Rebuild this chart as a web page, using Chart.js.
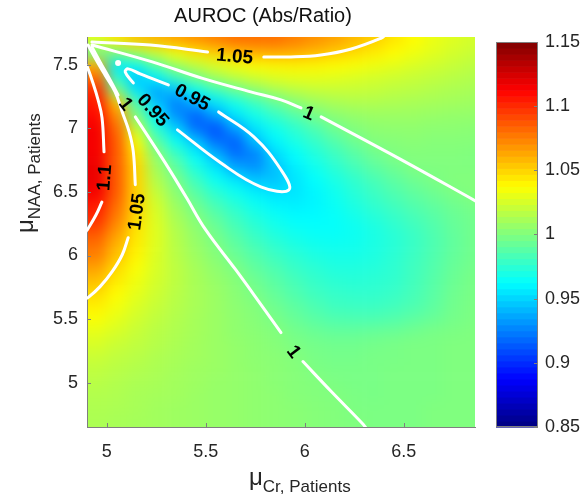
<!DOCTYPE html>
<html>
<head>
<meta charset="utf-8">
<script src="https://cdn.jsdelivr.net/npm/chart.js@4.4.1/dist/chart.umd.min.js"></script>
<style>
  body { margin: 0; background: #fff; font-family: "Liberation Sans", Arial, sans-serif; }
  #wrap { position: relative; width: 585px; height: 504px; overflow: hidden; }
  canvas { position: absolute; top: 0; }
  #main { left: 0; }
  #bar { left: 480px; }
  .lbl { position: absolute; color: #262626; white-space: nowrap; line-height: 1; }
  .lbl sub { font-size: 17px; vertical-align: baseline; position: relative; top: 7px; }
</style>
</head>
<body>
<div id="wrap">
  <canvas id="main" width="585" height="504"></canvas>
  <canvas id="bar" width="105" height="504"></canvas>
  <div class="lbl" style="left:0; width:526px; text-align:center; top:5px; font-size:20px; color:#111">AUROC (Abs/Ratio)</div>
  <div class="lbl" style="left:249px; top:465px; font-size:24px">μ<sub>Cr, Patients</sub></div>
  <div class="lbl" style="left:13px; top:233px; font-size:24px; transform-origin:left top; transform:rotate(-90deg)">μ<sub>NAA, Patients</sub></div>
</div>
<script>
// axes
const xMin = 4.9, xMax = 6.86;
const yMin = 4.65, yMax = 7.72;
const xTicks = [5, 5.5, 6, 6.5];
const yTicks = [5, 5.5, 6, 6.5, 7, 7.5];
const cMin = 0.85, cMax = 1.15;
const cbTicks = [0.85, 0.9, 0.95, 1, 1.05, 1.1, 1.15];
const cbTickLabels = ['0.85', '0.9', '0.95', '1', '1.05', '1.1', '1.15'];

// grid of AUROC ratio values
const xCenters = [4.95, 5.05, 5.15, 5.25, 5.35, 5.45, 5.55, 5.65, 5.75, 5.85,
                  5.95, 6.05, 6.15, 6.25, 6.35, 6.45, 6.55, 6.65, 6.75, 6.85];
const yCenters = [7.7, 7.6, 7.5, 7.4, 7.3, 7.2, 7.1, 7.0, 6.9, 6.8, 6.7, 6.6, 6.5, 6.4, 6.3, 6.2,
                  6.1, 6.0, 5.9, 5.8, 5.7, 5.6, 5.5, 5.4, 5.3, 5.2, 5.1, 5.0, 4.9, 4.8, 4.7];
const auroc = [
  [1.03, 1.045, 1.055, 1.06, 1.065, 1.07, 1.075, 1.08, 1.08, 1.08, 1.075, 1.07, 1.065, 1.058, 1.052, 1.045, 1.038, 1.032, 1.028, 1.025],
  [0.99, 1.0, 1.015, 1.025, 1.035, 1.045, 1.052, 1.058, 1.062, 1.063, 1.062, 1.058, 1.053, 1.048, 1.043, 1.038, 1.033, 1.029, 1.025, 1.022],
  [1.06, 0.955, 0.965, 0.99, 1.01, 1.02, 1.028, 1.034, 1.038, 1.04, 1.041, 1.04, 1.038, 1.036, 1.033, 1.03, 1.027, 1.024, 1.021, 1.018],
  [1.08, 0.975, 0.945, 0.96, 0.98, 0.997, 1.01, 1.018, 1.024, 1.028, 1.03, 1.03, 1.029, 1.027, 1.025, 1.023, 1.021, 1.019, 1.017, 1.015],
  [1.1, 1.0, 0.955, 0.935, 0.945, 0.965, 0.98, 0.993, 1.004, 1.012, 1.017, 1.02, 1.021, 1.021, 1.02, 1.018, 1.017, 1.015, 1.013, 1.012],
  [1.105, 1.055, 0.985, 0.945, 0.925, 0.94, 0.955, 0.968, 0.98, 0.992, 1.002, 1.008, 1.012, 1.014, 1.014, 1.013, 1.012, 1.011, 1.01, 1.009],
  [1.11, 1.07, 1.0, 0.96, 0.93, 0.915, 0.935, 0.955, 0.968, 0.978, 0.987, 0.997, 1.003, 1.006, 1.008, 1.008, 1.008, 1.007, 1.006, 1.006],
  [1.115, 1.08, 1.02, 0.975, 0.95, 0.92, 0.91, 0.935, 0.955, 0.967, 0.976, 0.985, 0.995, 1.001, 1.004, 1.005, 1.005, 1.004, 1.004, 1.003],
  [1.115, 1.085, 1.035, 0.99, 0.965, 0.945, 0.92, 0.915, 0.945, 0.96, 0.97, 0.978, 0.987, 0.995, 1.001, 1.002, 1.003, 1.002, 1.002, 1.002],
  [1.115, 1.085, 1.045, 1.003, 0.98, 0.96, 0.94, 0.92, 0.925, 0.952, 0.963, 0.972, 0.98, 0.988, 0.995, 1.0, 1.001, 1.001, 1.001, 1.0],
  [1.118, 1.085, 1.05, 1.01, 0.99, 0.97, 0.955, 0.935, 0.93, 0.945, 0.958, 0.967, 0.975, 0.983, 0.99, 0.995, 1.0, 1.0, 1.0, 1.0],
  [1.118, 1.085, 1.05, 1.015, 0.998, 0.98, 0.965, 0.955, 0.945, 0.945, 0.955, 0.963, 0.97, 0.977, 0.984, 0.99, 0.995, 0.999, 1.001, 1.001],
  [1.115, 1.085, 1.05, 1.02, 1.003, 0.988, 0.975, 0.966, 0.958, 0.953, 0.955, 0.96, 0.967, 0.974, 0.98, 0.986, 0.991, 0.995, 0.999, 1.001],
  [1.105, 1.08, 1.05, 1.025, 1.008, 0.995, 0.983, 0.974, 0.966, 0.96, 0.958, 0.96, 0.965, 0.971, 0.977, 0.982, 0.987, 0.991, 0.995, 0.998],
  [1.1, 1.075, 1.048, 1.027, 1.012, 1.001, 0.99, 0.98, 0.972, 0.966, 0.962, 0.962, 0.964, 0.968, 0.973, 0.978, 0.983, 0.988, 0.993, 0.996],
  [1.09, 1.068, 1.045, 1.028, 1.015, 1.005, 0.995, 0.985, 0.977, 0.97, 0.966, 0.964, 0.964, 0.966, 0.97, 0.975, 0.98, 0.986, 0.992, 0.996],
  [1.08, 1.06, 1.043, 1.028, 1.016, 1.007, 0.999, 0.99, 0.982, 0.975, 0.97, 0.967, 0.966, 0.967, 0.97, 0.974, 0.979, 0.985, 0.991, 0.996],
  [1.075, 1.055, 1.04, 1.027, 1.017, 1.009, 1.002, 0.994, 0.987, 0.98, 0.975, 0.971, 0.969, 0.969, 0.971, 0.975, 0.98, 0.986, 0.992, 0.996],
  [1.065, 1.048, 1.036, 1.026, 1.018, 1.011, 1.005, 0.999, 0.991, 0.985, 0.979, 0.975, 0.972, 0.972, 0.973, 0.976, 0.981, 0.987, 0.993, 0.997],
  [1.056, 1.043, 1.033, 1.025, 1.018, 1.012, 1.007, 1.002, 0.995, 0.989, 0.983, 0.978, 0.975, 0.974, 0.975, 0.977, 0.982, 0.988, 0.994, 0.998],
  [1.048, 1.038, 1.03, 1.023, 1.017, 1.012, 1.008, 1.003, 0.998, 0.992, 0.986, 0.981, 0.978, 0.977, 0.977, 0.979, 0.983, 0.989, 0.995, 0.998],
  [1.042, 1.034, 1.027, 1.021, 1.016, 1.012, 1.008, 1.004, 1.001, 0.995, 0.99, 0.985, 0.981, 0.98, 0.98, 0.982, 0.985, 0.99, 0.996, 0.999],
  [1.036, 1.03, 1.024, 1.019, 1.015, 1.011, 1.008, 1.005, 1.002, 0.998, 0.993, 0.989, 0.986, 0.985, 0.985, 0.987, 0.99, 0.993, 0.997, 0.999],
  [1.03, 1.026, 1.021, 1.017, 1.014, 1.011, 1.008, 1.005, 1.003, 1.001, 0.997, 0.994, 0.992, 0.992, 0.993, 0.994, 0.996, 0.998, 0.999, 1.0],
  [1.026, 1.022, 1.019, 1.016, 1.013, 1.01, 1.008, 1.006, 1.004, 1.002, 0.999, 0.997, 0.996, 0.996, 0.997, 0.998, 0.999, 0.999, 1.0, 1.0],
  [1.022, 1.019, 1.017, 1.014, 1.012, 1.01, 1.008, 1.006, 1.004, 1.003, 1.001, 0.998, 0.997, 0.997, 0.998, 0.998, 0.999, 0.999, 1.0, 1.0],
  [1.019, 1.017, 1.015, 1.013, 1.011, 1.009, 1.008, 1.006, 1.005, 1.003, 1.002, 0.999, 0.998, 0.998, 0.998, 0.999, 0.999, 0.999, 1.0, 1.0],
  [1.017, 1.015, 1.013, 1.012, 1.01, 1.009, 1.007, 1.006, 1.005, 1.003, 1.002, 1.001, 0.999, 0.998, 0.998, 0.999, 0.999, 0.999, 1.0, 1.0],
  [1.015, 1.014, 1.012, 1.011, 1.01, 1.008, 1.007, 1.006, 1.005, 1.004, 1.002, 1.001, 1.0, 0.999, 0.998, 0.999, 0.999, 0.999, 1.0, 1.0],
  [1.014, 1.013, 1.012, 1.01, 1.009, 1.008, 1.007, 1.006, 1.005, 1.004, 1.003, 1.002, 1.001, 0.999, 0.999, 0.999, 0.999, 1.0, 1.0, 1.0],
  [1.013, 1.012, 1.011, 1.01, 1.009, 1.008, 1.007, 1.006, 1.005, 1.004, 1.003, 1.002, 1.001, 1.0, 0.999, 0.999, 0.999, 1.0, 1.0, 1.0]
];
const cellW = 0.1, cellH = 0.1;

// contour lines (x, y) split where the labels sit
const top105A = [[4.925, 7.681], [5.22, 7.657], [5.509, 7.602]];
const top105B = [[5.793, 7.563], [5.93, 7.563], [6.082, 7.579], [6.235, 7.626], [6.387, 7.712], [6.41, 7.74]];
const upper1A = [[4.925, 7.657], [5.23, 7.524], [5.484, 7.394], [5.727, 7.288], [5.88, 7.225], [5.981, 7.162]];
const upper1B = [[6.083, 7.091], [6.489, 6.753], [6.87, 6.423]];
const c095A = [[5.134, 7.358], [5.093, 7.445], [5.108, 7.469], [5.169, 7.429], [5.311, 7.343]];
const c095B = [[5.565, 7.13], [5.743, 6.934], [5.88, 6.675], [5.92, 6.517], [5.778, 6.541], [5.575, 6.73], [5.357, 6.989]];
const c095Dot = [[5.057, 7.516]];
const left11A = [[4.9, 7.492], [4.925, 7.382], [4.956, 7.225], [4.976, 7.083], [4.986, 6.816]];
const left11B = [[4.975, 6.42], [4.946, 6.321], [4.905, 6.211], [4.895, 6.19]];
const left105A = [[4.905, 7.657], [4.941, 7.555], [4.991, 7.421], [5.042, 7.288], [5.078, 7.13],
                  [5.113, 6.973], [5.134, 6.816], [5.144, 6.557]];
const left105B = [[5.108, 6.14], [5.078, 6.006], [5.027, 5.873], [4.966, 5.755], [4.905, 5.668], [4.89, 5.66]];
const lower1A = [[4.925, 7.642], [4.966, 7.524], [5.017, 7.382], [5.057, 7.264]];
const lower1B = [[5.144, 7.091], [5.22, 6.91], [5.311, 6.69], [5.403, 6.454], [5.499, 6.203],
                 [5.651, 5.888], [5.768, 5.637], [5.88, 5.393]];
const lower1C = [[5.991, 5.165], [6.134, 4.929], [6.296, 4.67], [6.31, 4.64]];

// contour labels
const labelText = ['1.05', '1', '0.95', '0.95', '1', '1.1', '1.05', '1'];
const labelX = [5.646, 6.022, 5.433, 5.235, 5.098, 4.986, 5.149, 5.946];
const labelY = [7.571, 7.123, 7.248, 7.146, 7.193, 6.612, 6.344, 5.244];
const labelAngle = [5, 23, 28, 48, 52, -86, -82, 53];

Chart.defaults.font.family = '"Liberation Sans", Arial, sans-serif';
Chart.defaults.font.size = 18;
Chart.defaults.color = '#262626';

function jet(v) {
  const t = Math.min(1, Math.max(0, (v - cMin) / (cMax - cMin)));
  const f = c => Math.round(255 * Math.min(1, Math.max(0, 1.5 - Math.abs(4 * t - c))));
  return `rgb(${f(3)},${f(2)},${f(1)})`;
}

function contour(points) {
  return {
    data: points.map(p => ({ x: p[0], y: p[1] })),
    showLine: true,
    borderColor: '#fff',
    borderWidth: 3,
    pointRadius: 0,
    tension: 0.4,
    borderCapStyle: 'round',
    borderJoinStyle: 'round',
  };
}

const heatmapPlugin = {
  id: 'heatmap',
  beforeDraw(chart) {
    const { ctx, chartArea: a, scales: { x, y } } = chart;
    const off = document.createElement('canvas');
    off.width = chart.width;
    off.height = chart.height;
    const o = off.getContext('2d');
    const pad = 30;
    xCenters.forEach((xc, i) => {
      let l = x.getPixelForValue(xc - cellW / 2);
      let r = x.getPixelForValue(xc + cellW / 2);
      if (i === 0) l = a.left - pad;
      if (i === xCenters.length - 1) r = a.right + pad;
      yCenters.forEach((yc, j) => {
        let t = y.getPixelForValue(yc + cellH / 2);
        let b = y.getPixelForValue(yc - cellH / 2);
        if (j === 0) t = a.top - pad;
        if (j === yCenters.length - 1) b = a.bottom + pad;
        o.fillStyle = jet(auroc[j][i]);
        o.fillRect(l, t, r - l + 0.6, b - t + 0.6);
      });
    });
    ctx.save();
    ctx.beginPath();
    ctx.rect(a.left, a.top, a.right - a.left, a.bottom - a.top);
    ctx.clip();
    ctx.filter = 'blur(7px)';
    ctx.drawImage(off, 0, 0);
    ctx.restore();
  },
  afterDatasetsDraw(chart) {
    const { ctx, chartArea: a, scales: { x, y } } = chart;
    ctx.save();
    // inward tick marks
    ctx.strokeStyle = '#7f7f7f';
    ctx.lineWidth = 1;
    xTicks.forEach(v => {
      const px = Math.round(x.getPixelForValue(v)) + 0.5;
      ctx.beginPath(); ctx.moveTo(px, a.bottom); ctx.lineTo(px, a.bottom - 4); ctx.stroke();
    });
    yTicks.forEach(v => {
      const py = Math.round(y.getPixelForValue(v)) + 0.5;
      ctx.beginPath(); ctx.moveTo(a.left, py); ctx.lineTo(a.left + 4, py); ctx.stroke();
    });
    // contour labels
    ctx.fillStyle = '#000';
    ctx.font = 'bold 19px "Liberation Sans", Arial, sans-serif';
    ctx.textAlign = 'center';
    ctx.textBaseline = 'middle';
    labelText.forEach((txt, i) => {
      ctx.save();
      ctx.translate(x.getPixelForValue(labelX[i]), y.getPixelForValue(labelY[i]));
      ctx.rotate(labelAngle[i] * Math.PI / 180);
      ctx.fillText(txt, 0, 1);
      ctx.restore();
    });
    ctx.restore();
  }
};

new Chart(document.getElementById('main'), {
  type: 'scatter',
  data: {
    datasets: [
      contour(top105A), contour(top105B),
      contour(upper1A), contour(upper1B),
      contour(c095A), contour(c095B),
      contour(left11A), contour(left11B),
      contour(left105A), contour(left105B),
      contour(lower1A), contour(lower1B), contour(lower1C),
      {
        data: c095Dot.map(p => ({ x: p[0], y: p[1] })),
        pointRadius: 3,
        pointBackgroundColor: '#fff',
        pointBorderWidth: 0,
      },
    ],
  },
  options: {
    responsive: false,
    animation: false,
    layout: { padding: { left: 0, right: 110, top: 37, bottom: 0 } },
    plugins: { legend: { display: false }, tooltip: { enabled: false } },
    scales: {
      x: {
        type: 'linear',
        min: xMin,
        max: xMax,
        afterBuildTicks: scale => { scale.ticks = xTicks.map(v => ({ value: v })); },
        afterFit: scale => { scale.height = 77; },
        ticks: { padding: 14, callback: v => String(v) },
        grid: { display: false, drawTicks: false },
        border: { display: true, color: '#7f7f7f', width: 1 },
      },
      y: {
        type: 'linear',
        min: yMin,
        max: yMax,
        afterBuildTicks: scale => { scale.ticks = yTicks.map(v => ({ value: v })); },
        afterFit: scale => { scale.width = 87; },
        ticks: { padding: 9, callback: v => String(v) },
        grid: { display: false, drawTicks: false },
        border: { display: true, color: '#7f7f7f', width: 1 },
      },
    },
  },
  plugins: [heatmapPlugin],
});

const colorbarPlugin = {
  id: 'colorbar',
  beforeDraw(chart) {
    const { ctx, chartArea: a, scales: { y } } = chart;
    const n = 64;
    const step = (cMax - cMin) / n;
    ctx.save();
    for (let k = 0; k < n; k++) {
      const v0 = cMin + k * step;
      const top = y.getPixelForValue(v0 + step);
      const bot = y.getPixelForValue(v0);
      ctx.fillStyle = jet(v0 + step / 2);
      ctx.fillRect(a.left, top, a.right - a.left, bot - top + 0.6);
    }
    ctx.strokeStyle = '#7f7f7f';
    ctx.lineWidth = 1;
    ctx.strokeRect(a.left + 0.5, a.top + 0.5, a.right - a.left - 1, a.bottom - a.top - 1);
    cbTicks.forEach(v => {
      const py = Math.round(y.getPixelForValue(v)) + 0.5;
      ctx.beginPath(); ctx.moveTo(a.right - 4, py); ctx.lineTo(a.right, py); ctx.stroke();
    });
    ctx.restore();
  }
};

new Chart(document.getElementById('bar'), {
  type: 'scatter',
  data: { datasets: [] },
  options: {
    responsive: false,
    animation: false,
    layout: { padding: { left: 16, right: 0, top: 42, bottom: 77 } },
    plugins: { legend: { display: false }, tooltip: { enabled: false } },
    scales: {
      x: { display: false, min: 0, max: 1 },
      y: {
        position: 'right',
        min: cMin,
        max: cMax,
        afterBuildTicks: scale => { scale.ticks = cbTicks.map(v => ({ value: v })); },
        afterFit: scale => { scale.width = 47; },
        ticks: { padding: 7, callback: (v, i) => cbTickLabels[i] },
        grid: { display: false, drawTicks: false },
        border: { display: false },
      },
    },
  },
  plugins: [colorbarPlugin],
});
</script>
</body>
</html>
